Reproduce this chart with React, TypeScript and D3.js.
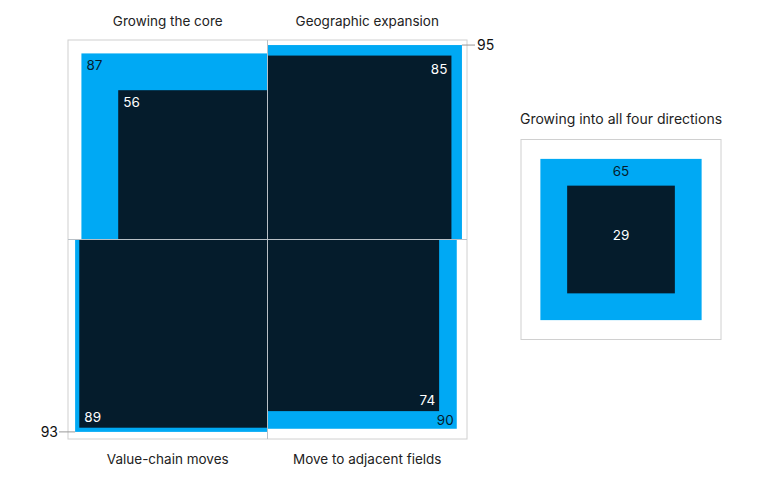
import * as d3 from 'd3'
import { useEffect, useRef } from 'react'

// quadrant data: outer (light) and inner (dark) values
const quadrants = ['Growing the core', 'Geographic expansion', 'Value-chain moves', 'Move to adjacent fields']
const outerValues = [87, 95, 93, 90]
const innerValues = [56, 85, 89, 74]
const allTitle = 'Growing into all four directions'
const allOuter = 65
const allInner = 29

const LIGHT = '#00a9f4'
const DARK = '#051c2c'
const GRID = '#d0d0d0'
const FONT = 'Inter, "Noto Sans", sans-serif'

export default function App() {
    const svgRef = useRef(null) as any

    useEffect(() => {
        const w = 767
        const h = 480
        const svg = d3.select(svgRef.current)
            .attr('width', w)
            .attr('height', h)
        svg.selectAll('*').remove()

        const cx = 267.5
        const cy = 239.5
        const half = 199.5
        const side = d3.scaleSqrt().domain([0, 100]).range([0, half])

        // outer frame
        svg.append('rect')
            .attr('x', cx - half).attr('y', cy - half)
            .attr('width', half * 2).attr('height', half * 2)
            .attr('fill', 'none').attr('stroke', GRID)

        // direction of each quadrant from the center
        const dirs = [[-1, -1], [1, -1], [-1, 1], [1, 1]]

        const sq = (v: number, i: number) => {
            const s = side(v)
            const [dx, dy] = dirs[i]
            return {
                x: dx < 0 ? cx - s : cx,
                y: dy < 0 ? cy - s : cy,
                s: s
            }
        }

        const g = svg.append('g')
        outerValues.forEach((v, i) => {
            const r = sq(v, i)
            g.append('rect').attr('x', r.x).attr('y', r.y)
                .attr('width', r.s).attr('height', r.s).attr('fill', LIGHT)
        })
        innerValues.forEach((v, i) => {
            const r = sq(v, i)
            g.append('rect').attr('x', r.x).attr('y', r.y)
                .attr('width', r.s).attr('height', r.s).attr('fill', DARK)
        })

        // center lines
        svg.append('line')
            .attr('x1', cx).attr('x2', cx).attr('y1', cy - half).attr('y2', cy + half)
            .attr('stroke', '#b9c0c6').attr('stroke-width', 1)
        svg.append('line')
            .attr('x1', cx - half).attr('x2', cx + half).attr('y1', cy).attr('y2', cy)
            .attr('stroke', '#b9c0c6').attr('stroke-width', 1)

        const txt = (x: number, y: number, t: string | number, fill: string, anchor = 'start', size = 13.5) =>
            svg.append('text')
                .attr('x', x).attr('y', y)
                .attr('text-anchor', anchor)
                .attr('fill', fill)
                .style('font-family', FONT)
                .style('font-size', size + 'px')
                .text(t)

        // labels
        const o0 = sq(outerValues[0], 0), i0 = sq(innerValues[0], 0)
        txt(o0.x + 5, o0.y + 17, outerValues[0], DARK)
        txt(i0.x + 5, i0.y + 17, innerValues[0], '#fff')

        const o1 = sq(outerValues[1], 1), i1 = sq(innerValues[1], 1)
        txt(i1.x + i1.s - 4, i1.y + 18, innerValues[1], '#fff', 'end')
        svg.append('line')
            .attr('x1', o1.x + o1.s).attr('x2', cx + half + 8)
            .attr('y1', o1.y).attr('y2', o1.y)
            .attr('stroke', '#999')
        txt(cx + half + 10, o1.y + 5, outerValues[1], '#111', 'start', 14)

        const o2 = sq(outerValues[2], 2), i2 = sq(innerValues[2], 2)
        txt(i2.x + 5, i2.y + i2.s - 6, innerValues[2], '#fff')
        svg.append('line')
            .attr('x1', cx - half - 9).attr('x2', o2.x)
            .attr('y1', o2.y + o2.s).attr('y2', o2.y + o2.s)
            .attr('stroke', '#999')
        txt(cx - half - 10, o2.y + o2.s + 5, outerValues[2], '#111', 'end', 14)

        const o3 = sq(outerValues[3], 3), i3 = sq(innerValues[3], 3)
        txt(i3.x + i3.s - 4, i3.y + i3.s - 6, innerValues[3], '#fff', 'end')
        txt(o3.x + o3.s - 3, o3.y + o3.s - 4, outerValues[3], DARK, 'end')

        // quadrant titles
        const tx = [cx - half / 2, cx + half / 2]
        txt(tx[0], 26, quadrants[0], '#222', 'middle')
        txt(tx[1], 26, quadrants[1], '#222', 'middle')
        txt(tx[0], 464, quadrants[2], '#222', 'middle')
        txt(tx[1], 464, quadrants[3], '#222', 'middle')

        // right panel
        const rx = 621
        const ry = 239.5
        const rside = d3.scaleSqrt().domain([0, 100]).range([0, 200])
        svg.append('rect')
            .attr('x', rx - 100).attr('y', ry - 100)
            .attr('width', 200).attr('height', 200)
            .attr('fill', 'none').attr('stroke', GRID)
        const so = rside(allOuter)
        const si = rside(allInner)
        svg.append('rect').attr('x', rx - so / 2).attr('y', ry - so / 2)
            .attr('width', so).attr('height', so).attr('fill', LIGHT)
        svg.append('rect').attr('x', rx - si / 2).attr('y', ry - si / 2)
            .attr('width', si).attr('height', si).attr('fill', DARK)
        txt(rx, ry - so / 2 + 17, allOuter, DARK, 'middle')
        txt(rx, ry, allInner, '#fff', 'middle')
        txt(rx, 124, allTitle, '#222', 'middle', 14)
    }, [])

    return (
        <div style={{ position: 'absolute', left: 0, top: 0 }}>
            <svg ref={svgRef} style={{ display: 'block' }} />
        </div>
    )
}
